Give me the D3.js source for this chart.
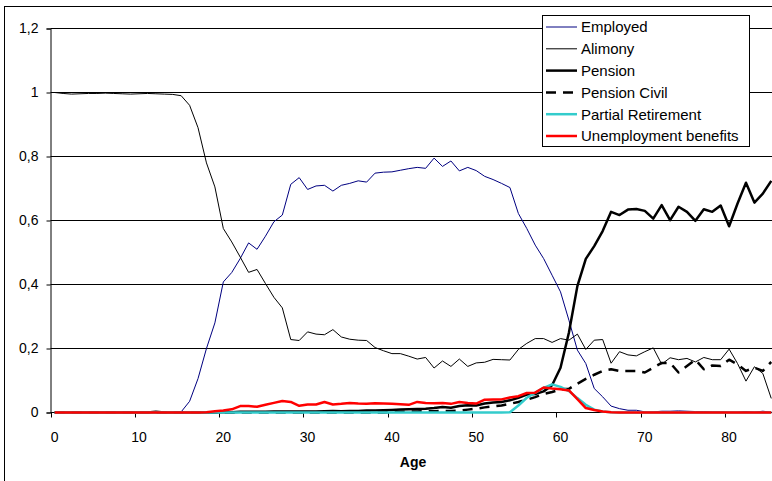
<!DOCTYPE html>
<html>
<head>
<meta charset="utf-8">
<script src="https://cdn.jsdelivr.net/npm/d3@7"></script>
<style>
  html, body { margin: 0; padding: 0; background: #fff; }
  svg { display: block; font-family: "Liberation Sans", Arial, sans-serif; }
</style>
</head>
<body>
<svg id="chart" width="772" height="481"></svg>
<script>
const ages = [0,1,2,3,4,5,6,7,8,9,10,11,12,13,14,15,16,17,18,19,20,21,22,23,24,25,26,27,28,29,30,31,32,33,34,35,36,37,38,39,40,41,42,43,44,45,46,47,48,49,50,51,52,53,54,55,56,57,58,59,60,61,62,63,64,65,66,67,68,69,70,71,72,73,74,75,76,77,78,79,80,81,82,83,84,85];

const employed = [
  0,0,0,0,0,0,0,0,0,0,
  0,0,0,0,0,0.002,0.035,0.106,0.2,0.28,
  0.408,0.4375,0.481,0.53,0.51,0.551,0.596,0.617,0.713,0.734,
  0.697,0.708,0.71,0.692,0.71,0.716,0.724,0.72,0.748,0.751,
  0.752,0.757,0.762,0.766,0.763,0.795,0.769,0.786,0.755,0.766,
  0.756,0.738,0.728,0.716,0.703,0.622,0.575,0.523,0.481,0.429,
  0.377,0.288,0.195,0.153,0.075,0.049,0.02,0.012,0.007,0.007,
  0.002,0.002,0.004,0.004,0.005,0.004,0.003,0.003,0.002,0.002,
  0.001,0.001,0.003,0.001,0.004,0.001];

const alimony = [
  1,0.997,0.995,0.996,0.997,0.997,0.998,0.997,0.996,0.995,
  0.996,0.997,0.996,0.995,0.994,0.99,0.96,0.89,0.78,0.705,
  0.575,0.533,0.486,0.438,0.447,0.403,0.36,0.327,0.228,0.225,
  0.252,0.245,0.243,0.259,0.236,0.229,0.226,0.225,0.203,0.193,
  0.184,0.184,0.176,0.167,0.172,0.139,0.161,0.144,0.167,0.144,
  0.155,0.157,0.166,0.165,0.164,0.197,0.216,0.231,0.231,0.219,
  0.231,0.226,0.245,0.197,0.226,0.228,0.154,0.19,0.18,0.177,
  0.19,0.202,0.151,0.171,0.165,0.169,0.158,0.172,0.165,0.165,
  0.198,0.153,0.098,0.143,0.122,0.044];

const pension = [
  0,0,0,0,0,0,0,0,0,0,
  0,0,0.002,0,0,0,0,0,0,0,
  0.001,0.001,0.002,0.002,0.002,0.002,0.003,0.003,0.003,0.003,
  0.003,0.003,0.004,0.005,0.004,0.005,0.005,0.006,0.006,0.007,
  0.008,0.009,0.01,0.011,0.012,0.014,0.017,0.015,0.02,0.023,
  0.022,0.028,0.031,0.033,0.038,0.046,0.056,0.058,0.066,0.085,
  0.14,0.25,0.395,0.48,0.52,0.567,0.627,0.617,0.634,0.636,
  0.63,0.606,0.648,0.601,0.643,0.627,0.599,0.635,0.627,0.647,
  0.582,0.653,0.718,0.656,0.684,0.724];

const pensionCivil = [
  0,0,0,0,0,0,0,0,0,0,
  0,0,0,0,0,0,0,0,0,0,
  0,0,0,0,0,0,0,0,0,0,
  0,0,0,0,0,0,0,0,0,0,
  0.002,0.002,0.003,0.003,0.004,0.004,0.005,0.005,0.006,0.009,
  0.012,0.016,0.019,0.022,0.027,0.033,0.04,0.048,0.058,0.064,
  0.072,0.074,0.09,0.105,0.118,0.13,0.135,0.13,0.13,0.13,
  0.125,0.14,0.155,0.155,0.125,0.145,0.165,0.135,0.147,0.145,
  0.165,0.15,0.13,0.14,0.13,0.158];

const partialRetirement = [
  0,0,0,0,0,0,0,0,0,0,
  0,0,0,0,0,0,0,0,0,0,
  0,0,0,0,0,0,0,0,0,0,
  0,0,0,0,0,0,0,0,0,0,
  0,0,0,0,0,0,0,0,0,0,
  0,0,0,0,0.001,0.022,0.046,0.062,0.077,0.088,
  0.08,0.067,0.045,0.024,0.009,0.003,0.001,0,0,0,
  0,0,0,0,0,0,0,0,0,0,
  0,0,0,0,0,0];

const unemployment = [
  0,0,0,0,0,0,0,0,0,0,
  0,0,0,0,0,0,0,0,0.001,0.004,
  0.006,0.01,0.02,0.02,0.018,0.024,0.03,0.036,0.033,0.021,
  0.025,0.025,0.033,0.025,0.027,0.03,0.028,0.027,0.029,0.028,
  0.027,0.026,0.024,0.033,0.03,0.029,0.03,0.027,0.033,0.03,
  0.028,0.04,0.041,0.041,0.047,0.051,0.061,0.062,0.078,0.075,
  0.073,0.069,0.042,0.014,0.008,0.003,0.001,0,0,0,
  0,0,0,0,0,0,0,0,0,0,
  0,0,0,0,0,0];

const seriesNames = ["Employed","Alimony","Pension","Pension Civil","Partial Retirement","Unemployment benefits"];
const yTickValues = [0,0.2,0.4,0.6,0.8,1,1.2];
const yTickLabels = ["0","0,2","0,4","0,6","0,8","1","1,2"];
const xTickValues = [0,10,20,30,40,50,60,70,80];
const xTickLabels = ["0","10","20","30","40","50","60","70","80"];
const xTitle = "Age";

(function () {
const series = [
  {name: seriesNames[0], values: employed, color: "#000080", width: 1, dash: null},
  {name: seriesNames[1], values: alimony, color: "#000000", width: 1, dash: null},
  {name: seriesNames[2], values: pension, color: "#000000", width: 2.5, dash: null},
  {name: seriesNames[3], values: pensionCivil, color: "#000000", width: 2.5, dash: "10,7"},
  {name: seriesNames[4], values: partialRetirement, color: "#33CCCC", width: 2.5, dash: null},
  {name: seriesNames[5], values: unemployment, color: "#FF0000", width: 2.5, dash: null}
];

const svg = d3.select("#chart");
const pLeft = 50.5, pTop = 28.5, pBottom = 412.5;
const bandW = 8.43;
const pRight = pLeft + ages.length * bandW;

const x = d3.scaleBand().domain(ages).range([pLeft, pRight]).paddingInner(0).paddingOuter(0);
const cx = a => x(a) + x.bandwidth() / 2;
const y = d3.scaleLinear().domain([0, 1.2]).range([pBottom, pTop]);

// outer chart border
svg.append("rect").attr("x", 4.5).attr("y", 6.5).attr("width", 900).attr("height", 600)
  .attr("fill", "#fff").attr("stroke", "#000").attr("stroke-width", 1);

// gridlines
svg.append("g").selectAll("line").data(yTickValues.filter(v => v > 0)).join("line")
  .attr("x1", pLeft).attr("x2", pRight)
  .attr("y1", d => Math.round(y(d) - 0.5) + 0.5).attr("y2", d => Math.round(y(d) - 0.5) + 0.5)
  .attr("stroke", "#000").attr("stroke-width", 1);

// y axis
const yAxis = d3.axisLeft(y).tickValues(yTickValues).tickSize(4).tickPadding(8)
  .tickFormat((d, i) => yTickLabels[i]);
const gy = svg.append("g").attr("transform", `translate(${pLeft},0)`).call(yAxis);
gy.select(".domain").attr("stroke", "#000");
gy.selectAll(".tick line").attr("stroke", "#000");
gy.selectAll("text").attr("font-size", 14).attr("fill", "#000")
  .attr("font-family", "'Liberation Sans', Arial, sans-serif");

// x axis: ticks at category boundaries, labels centered on categories
const gx = svg.append("g").attr("transform", `translate(0,${pBottom})`);
gx.append("line").attr("x1", pLeft).attr("x2", pRight).attr("y1", 0).attr("y2", 0).attr("stroke", "#000");
gx.selectAll("line.tk").data(xTickValues).join("line").attr("class", "tk")
  .attr("x1", d => Math.round(x(d)) + 0.5).attr("x2", d => Math.round(x(d)) + 0.5)
  .attr("y1", 0).attr("y2", 5).attr("stroke", "#000");
gx.selectAll("text").data(xTickValues).join("text")
  .attr("x", d => cx(d)).attr("y", 29)
  .attr("text-anchor", "middle").attr("font-size", 14).attr("fill", "#000")
  .text((d, i) => xTickLabels[i]);

svg.append("text").attr("x", (pLeft + 775.5) / 2).attr("y", 467)
  .attr("text-anchor", "middle").attr("font-size", 14).attr("font-weight", "bold")
  .text(xTitle);

// lines
const line = d3.line().x((d, i) => cx(ages[i])).y(d => y(d)).curve(d3.curveLinear);
svg.append("g").selectAll("path").data(series).join("path")
  .attr("d", s => line(s.values))
  .attr("fill", "none")
  .attr("stroke", s => s.color)
  .attr("stroke-width", s => s.width)
  .attr("stroke-dasharray", s => s.dash)
  .attr("stroke-linejoin", "round");

// legend
const lg = svg.append("g");
lg.append("rect").attr("x", 542.5).attr("y", 15.5).attr("width", 207).attr("height", 131)
  .attr("fill", "#fff").attr("stroke", "#000");
const rowY = i => 27 + i * 21.8;
const items = lg.selectAll("g.item").data(series).join("g").attr("class", "item");
items.append("line")
  .attr("x1", 546).attr("x2", 577)
  .attr("y1", (d, i) => rowY(i)).attr("y2", (d, i) => rowY(i))
  .attr("stroke", d => d.color).attr("stroke-width", d => d.width)
  .attr("stroke-dasharray", d => d.dash);
items.append("text")
  .attr("x", 581).attr("y", (d, i) => rowY(i)).attr("dy", "0.36em")
  .attr("font-size", 15).attr("fill", "#000")
  .text(d => d.name);
})();
</script>
</body>
</html>
